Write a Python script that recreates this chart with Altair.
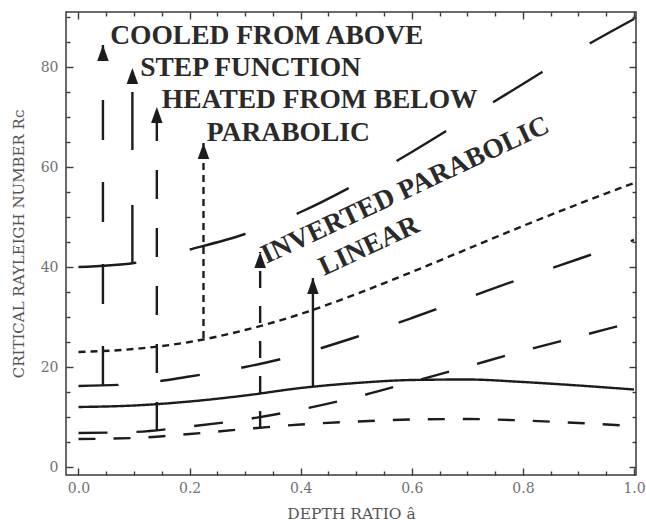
import altair as alt
import pandas as pd

# Depth ratio sample points shared by every profile curve
depth = [0.0, 0.1, 0.2, 0.3, 0.4, 0.5, 0.6, 0.7, 0.8, 0.9, 1.0]

# Critical Rayleigh number for each heating profile
rc_cooled_above = [16.2, 16.6, 18.1, 20.0, 22.6, 26.0, 29.8, 33.8, 37.8, 41.6, 45.4]
rc_step = [40.0, 40.8, 43.5, 46.6, 51.0, 56.6, 63.0, 69.8, 76.6, 83.4, 89.6]
rc_heated_below = [6.8, 7.0, 8.1, 9.5, 11.5, 14.0, 17.0, 20.1, 23.2, 26.1, 29.0]
rc_parabolic = [23.0, 23.6, 25.0, 27.4, 30.6, 34.6, 39.0, 43.6, 48.2, 52.6, 56.8]
rc_inverted = [5.6, 5.8, 6.6, 7.6, 8.5, 9.1, 9.5, 9.6, 9.3, 8.8, 8.2]
rc_linear = [12.0, 12.3, 13.1, 14.3, 15.8, 16.8, 17.4, 17.5, 17.0, 16.3, 15.5]

profiles = ["COOLED FROM ABOVE", "STEP FUNCTION", "HEATED FROM BELOW",
            "PARABOLIC", "INVERTED PARABOLIC", "LINEAR"]
series = [rc_cooled_above, rc_step, rc_heated_below, rc_parabolic, rc_inverted, rc_linear]

# Pointer arrows from each curve up to its label
arrow_x = [0.044, 0.097, 0.141, 0.225, 0.327, 0.422]
arrow_from = [16.2, 40.8, 7.2, 25.8, 7.8, 16.2]
arrow_to = [84.4, 79.8, 72.0, 64.8, 43.0, 37.8]

# Label anchors (data units) and text rotation
label_x = [0.057, 0.111, 0.150, 0.231, 0.338, 0.442]
label_y = [84.6, 78.3, 71.8, 65.2, 40.6, 38.2]
label_angle = [0, 0, 0, 0, 335, 335]

x_major = [0.0, 0.2, 0.4, 0.6, 0.8, 1.0]
x_minor = [0.05, 0.1, 0.15, 0.25, 0.3, 0.35, 0.45, 0.5, 0.55, 0.65, 0.7, 0.75,
           0.85, 0.9, 0.95]
y_major = [0, 20, 40, 60, 80]
y_minor = [5, 10, 15, 25, 30, 35, 45, 50, 55, 65, 70, 75, 85, 90]

W, H = 570, 463
INK = "#1c1c1c"
FRAME = "#3a3a3a"

curve_dash = [[40, 42], [58, 55], [29, 29], [7, 5], [17, 18], [1, 0]]
arrow_dash = [[33, 31], [47, 46], [24, 23], [3, 3], [13, 10], [1, 0]]

curves = pd.DataFrame(
    [{"profile": p, "depth": d, "rc": v}
     for p, ys in zip(profiles, series) for d, v in zip(depth, ys)]
)
arrows = pd.DataFrame({"profile": profiles, "x": arrow_x,
                       "y0": arrow_from, "y1": arrow_to})
labels = pd.DataFrame({"profile": profiles, "x": label_x, "y": label_y,
                       "angle": label_angle})

xs = alt.Scale(domain=[-0.0225, 1.0036], nice=False, zero=False)
ys = alt.Scale(domain=[-1.6, 91.0], nice=False, zero=False)

label_font = "DejaVu Serif"

main_x_axis = alt.Axis(
    values=x_major, format=".1f", ticks=False, domain=False, grid=False,
    labelFont=label_font, labelFontSize=14, labelColor="#707070", labelPadding=6,
    title="DEPTH RATIO â", titleFont=label_font, titleFontSize=15.5,
    titleFontWeight="normal", titleColor="#555555", titlePadding=11,
)
main_y_axis = alt.Axis(
    values=y_major, ticks=False, domain=False, grid=False,
    labelFont=label_font, labelFontSize=14, labelColor="#707070", labelPadding=8,
    title="CRITICAL RAYLEIGH NUMBER Rᴄ", titleFont=label_font, titleFontSize=15,
    titleFontWeight="normal", titleColor="#555555", titlePadding=14,
)


def tick_axis(orient, offset, values, size):
    return alt.Axis(orient=orient, offset=offset, values=values, tickSize=size,
                    tickWidth=1.4, tickColor=FRAME, labels=False, domain=False,
                    grid=False, title="")


curve_layer = alt.Chart(curves).mark_line(
    interpolate="monotone", strokeWidth=2.4, color=INK
).encode(
    x=alt.X("depth:Q", scale=xs, axis=main_x_axis),
    y=alt.Y("rc:Q", scale=ys, axis=main_y_axis),
    strokeDash=alt.StrokeDash("profile:N",
                              scale=alt.Scale(domain=profiles, range=curve_dash),
                              legend=None),
)


def tick_layer(x_orient, y_orient, xv, yv, size):
    return alt.Chart(arrows).mark_point(opacity=0).encode(
        x=alt.X("x:Q", scale=xs, axis=tick_axis(x_orient, -H, xv, size)),
        y=alt.Y("y0:Q", scale=ys, axis=tick_axis(y_orient, -W, yv, size)),
    )


# Inward ticks: bottom/left and top/right edges, major and minor
ticks_bl_major = tick_layer("top", "right", x_major, y_major, 7)
ticks_tr_major = tick_layer("bottom", "left", x_major, y_major, 7)
ticks_bl_minor = tick_layer("top", "right", x_minor, y_minor, 4)
ticks_tr_minor = tick_layer("bottom", "left", x_minor, y_minor, 4)

shaft_layer = alt.Chart(arrows).mark_rule(strokeWidth=2.4, color=INK).encode(
    x=alt.X("x:Q", scale=xs, axis=None),
    y=alt.Y("y0:Q", scale=ys, axis=None),
    y2="y1:Q",
    strokeDash=alt.StrokeDash("profile:N",
                              scale=alt.Scale(domain=profiles, range=arrow_dash),
                              legend=None),
)

head_layer = alt.Chart(arrows).mark_point(
    shape="M0,0 L0.72,2 L-0.72,2 Z", size=256, filled=True, opacity=1,
    color=INK, strokeWidth=0,
).encode(
    x=alt.X("x:Q", scale=xs, axis=None),
    y=alt.Y("y1:Q", scale=ys, axis=None),
)

text_layer = alt.Chart(labels).mark_text(
    font="Liberation Serif", fontWeight="bold", fontSize=27.5, align="left",
    baseline="alphabetic", color="#2a2a2a",
).encode(
    x=alt.X("x:Q", scale=xs, axis=None),
    y=alt.Y("y:Q", scale=ys, axis=None),
    text="profile:N",
    angle=alt.Angle("angle:Q", scale=None),
)

chart = alt.layer(
    ticks_bl_major, ticks_tr_major, ticks_bl_minor, ticks_tr_minor,
    curve_layer, shaft_layer, head_layer, text_layer,
).resolve_axis(x="independent", y="independent").properties(
    width=W, height=H,
    autosize=alt.AutoSizeParams(type="none"),
    padding={"left": 66, "top": 12, "right": 10, "bottom": 52},
    background="white",
).configure_view(stroke=FRAME, strokeWidth=1.5)

chart.save("out.html", embed_options={"renderer": "svg", "actions": False})
